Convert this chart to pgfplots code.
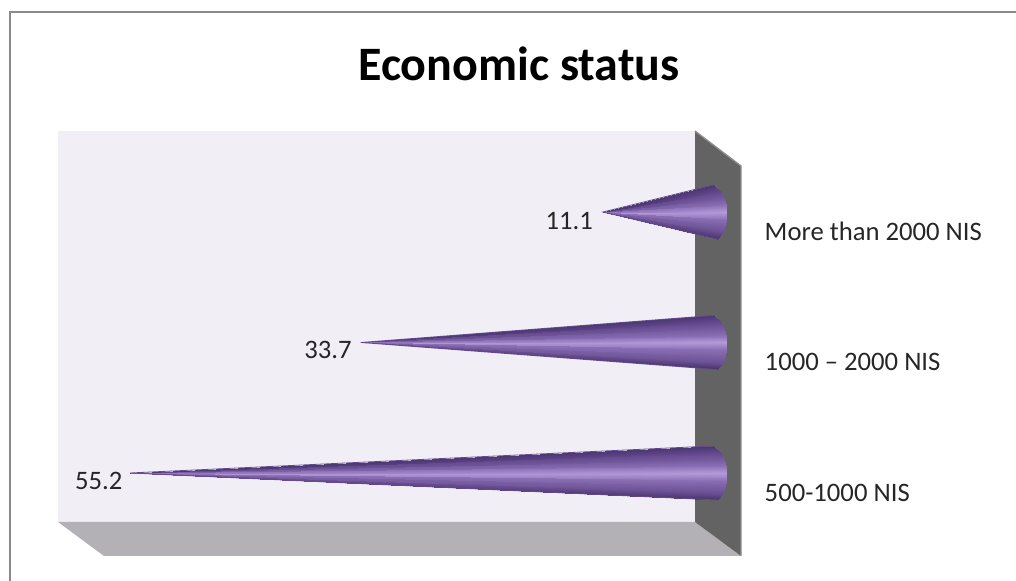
\documentclass[border=0pt]{standalone}
\usepackage{fontspec}
\setmainfont{Carlito}
\usepackage{pgfplots}
\pgfplotsset{compat=1.18}

\definecolor{backwall}{HTML}{F1EFF5}
\definecolor{sidewall}{HTML}{636363}
\definecolor{sideedge}{HTML}{8E8E8E}
\definecolor{floorc}{HTML}{B3B1B6}
\definecolor{framec}{HTML}{8A8A8A}
\definecolor{conea}{HTML}{463468}
\definecolor{coneb}{HTML}{6A5093}
\definecolor{conec}{HTML}{8A6EB4}
\definecolor{coned}{HTML}{B59ADA}
\definecolor{conee}{HTML}{65498F}
\definecolor{conef}{HTML}{4A3770}

% cones: x = value (tip) and rim, y = category position, c = place across the cone
\pgfplotstableread{
x y c
55.2 0 -1
0.46 -0.207 -1
55.2 0 -0.75
-0.05 -0.155 -0.75
55.2 0 -0.5
-0.25 -0.103 -0.5
55.2 0 -0.25
-0.35 -0.052 -0.25
55.2 0 0
-0.38 0 0
55.2 0 0.25
-0.35 0.052 0.25
55.2 0 0.5
-0.22 0.103 0.5
55.2 0 0.75
0.1 0.155 0.75
55.2 0 1
0.85 0.207 1
}\conelow
\pgfplotstableread{
x y c
33.7 1 -1
0.46 0.793 -1
33.7 1 -0.75
-0.05 0.845 -0.75
33.7 1 -0.5
-0.25 0.897 -0.5
33.7 1 -0.25
-0.35 0.948 -0.25
33.7 1 0
-0.38 1 0
33.7 1 0.25
-0.35 1.052 0.25
33.7 1 0.5
-0.22 1.103 0.5
33.7 1 0.75
0.1 1.155 0.75
33.7 1 1
0.85 1.207 1
}\conemid
\pgfplotstableread{
x y c
11.1 2 -1
0.46 1.793 -1
11.1 2 -0.75
-0.05 1.845 -0.75
11.1 2 -0.5
-0.25 1.897 -0.5
11.1 2 -0.25
-0.35 1.948 -0.25
11.1 2 0
-0.38 2 0
11.1 2 0.25
-0.35 2.052 0.25
11.1 2 0.5
-0.22 2.103 0.5
11.1 2 0.75
0.1 2.155 0.75
11.1 2 1
0.85 2.207 1
}\conehigh

\begin{document}
\begin{tikzpicture}
% frame and walls, 1 unit = 1 px of the reference
\begin{scope}[x=0.75pt,y=-0.75pt,yshift=435.75pt]
\path[use as bounding box] (0,0) rectangle (1016,581);
\draw[framec,line width=2pt] (10,581) -- (10,12) -- (1016,12);
\fill[backwall] (58,131) rectangle (695,522);
\fill[floorc] (58,522) -- (695,522) -- (741,556) -- (104,556) -- cycle;
\fill[sidewall] (695,131) -- (741,166) -- (741,556) -- (695,522) -- cycle;
\draw[sideedge,line width=1pt] (695,131) -- (741,166) -- (741,556);
\node[font=\bfseries\fontsize{36}{42}\selectfont,text=black] at (519,64) {Economic status};
\end{scope}
\begin{axis}[
    at={(0,0)},anchor=south west,
    scale only axis,
    width=762pt,height=435.75pt,
    x dir=reverse,
    xmin=-27.43,xmax=67.35,
    ymin=-0.828,ymax=3.625,
    hide axis,
    clip=false,
    colormap={cone}{color(0)=(conea) color(0.12)=(coneb) color(0.36)=(conec) color(0.5)=(coned)
        color(0.64)=(conec) color(0.88)=(conee) color(1)=(conef)},
    point meta min=-1,point meta max=1,
]
\addplot[surf,shader=interp,mesh/rows=9,mesh/cols=2,point meta=explicit] table[x=x,y=y,meta=c] {\conelow};
\addplot[surf,shader=interp,mesh/rows=9,mesh/cols=2,point meta=explicit] table[x=x,y=y,meta=c] {\conemid};
\addplot[surf,shader=interp,mesh/rows=9,mesh/cols=2,point meta=explicit] table[x=x,y=y,meta=c] {\conehigh};
% dark outline so that the thin tips stay visible
\addplot[conee,line width=0.6pt,no marks] coordinates {(0.46,-0.207)(55.2,0)(0.85,0.207)};
\addplot[conee,line width=0.6pt,no marks] coordinates {(0.46,0.793)(33.7,1)(0.85,1.207)};
\addplot[conee,line width=0.6pt,no marks] coordinates {(0.46,1.793)(11.1,2)(0.85,2.207)};
\node[font=\fontsize{20}{24}\selectfont,anchor=east,text=black!85] at (axis cs:55.5,-0.06) {55.2};
\node[font=\fontsize{20}{24}\selectfont,anchor=east,text=black!85] at (axis cs:34.1,0.94) {33.7};
\node[font=\fontsize{20}{24}\selectfont,anchor=east,text=black!85] at (axis cs:11.6,1.93) {11.1};
\node[font=\fontsize{20}{24}\selectfont,anchor=west,text=black!85] at (axis cs:-3.55,-0.155) {500-1000 NIS};
\node[font=\fontsize{20}{24}\selectfont,anchor=west,text=black!85] at (axis cs:-3.55,0.85) {1000 -- 2000 NIS};
\node[font=\fontsize{20}{24}\selectfont,anchor=west,text=black!85] at (axis cs:-3.55,1.85) {More than 2000 NIS};
\end{axis}
\end{tikzpicture}
\end{document}
